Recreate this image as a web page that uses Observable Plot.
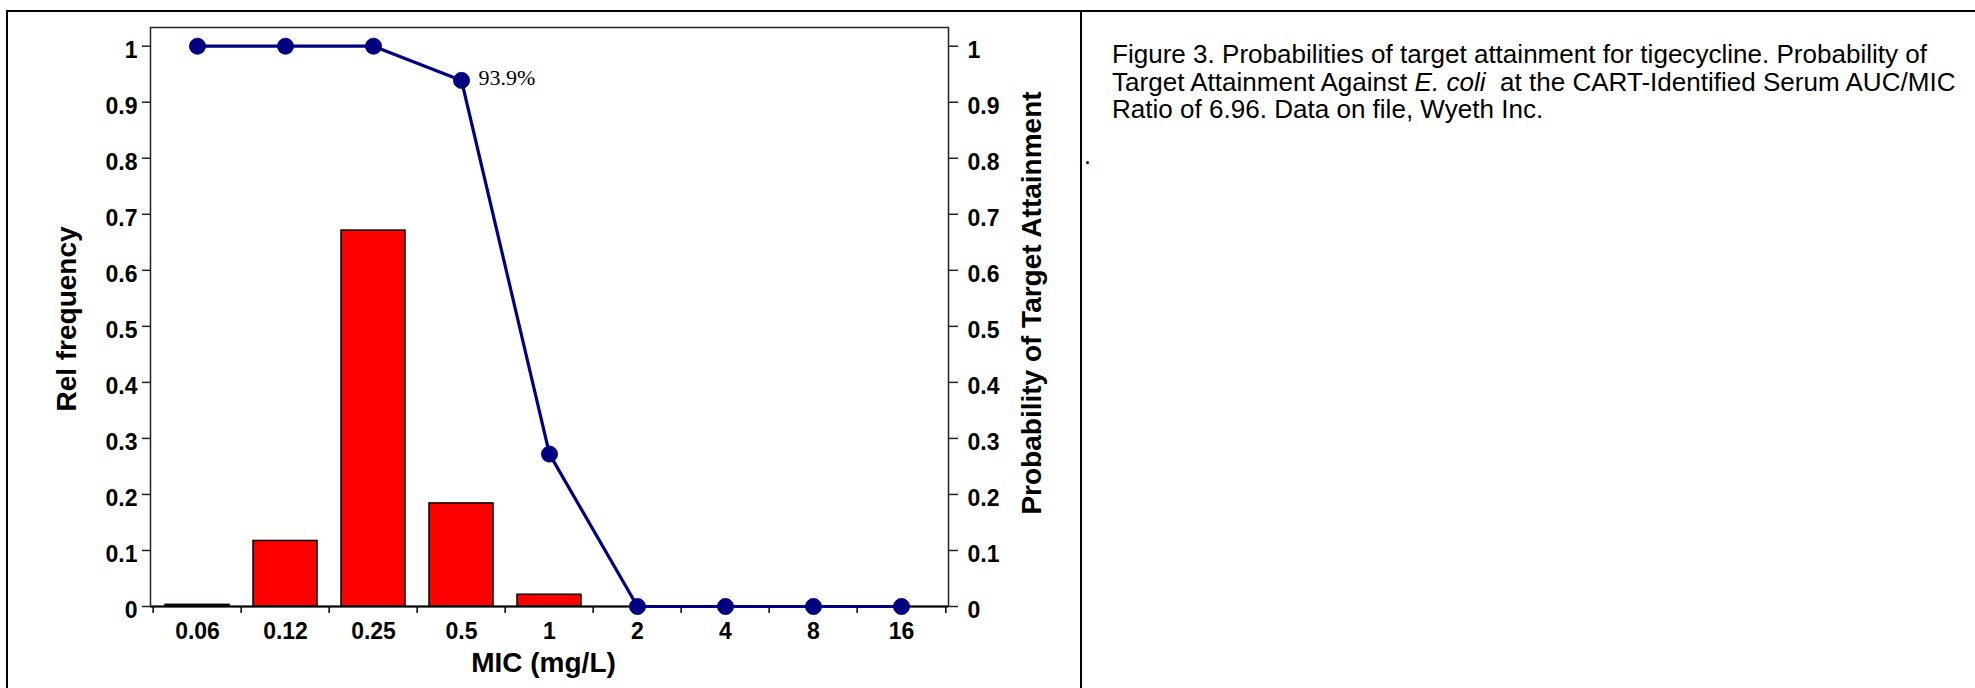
<!DOCTYPE html>
<html>
<head>
<meta charset="utf-8">
<script src="https://cdn.jsdelivr.net/npm/d3@7"></script>
<script src="https://cdn.jsdelivr.net/npm/@observablehq/plot@0.6"></script>
<style>
  html, body { margin: 0; padding: 0; background: #fff; }
  body { width: 1975px; height: 688px; position: relative; overflow: hidden; }
  .rule { position: absolute; background: #000; }
  #chart { position: absolute; left: 0; top: 0; }
  #caption {
    position: absolute; left: 1112px; top: 41px;
    font-family: "Liberation Sans", Arial, sans-serif;
    font-size: 25px; line-height: 27.5px; color: #000; white-space: nowrap;
    transform-origin: 0 0;
  }
  #caption div { white-space: nowrap; line-height: 27.5px; height: 27.5px; }
  #dot { position: absolute; left: 1084px; top: 143px; font-family: "Liberation Sans", Arial, sans-serif; font-size: 25px; line-height: 25.5px; }
</style>
</head>
<body>
<div class="rule" style="left:6px; top:10px; width:1969px; height:2px;"></div>
<div class="rule" style="left:6px; top:10px; width:2px; height:678px;"></div>
<div class="rule" style="left:1080px; top:10px; width:2px; height:678px;"></div>
<div id="chart"></div>
<div id="caption">
  <div id="cap1">Figure 3. Probabilities of target attainment for tigecycline. Probability of</div>
  <div>Target Attainment Against <i>E. coli</i>&nbsp; at the CART-Identified Serum AUC/MIC</div>
  <div>Ratio of 6.96. Data on file, Wyeth Inc.</div>
</div>
<div id="dot">.</div>
<script>
// ---- data ----
const mic = ["0.06", "0.12", "0.25", "0.5", "1", "2", "4", "8", "16"];
const relFrequency = [0.003, 0.117, 0.671, 0.184, 0.021, 0, 0, 0, 0];
const targetAttainment = [1, 1, 1, 0.939, 0.272, 0, 0, 0, 0];
const yTicks = [0, 0.1, 0.2, 0.3, 0.4, 0.5, 0.6, 0.7, 0.8, 0.9, 1];
const yTickLabels = ["0", "0.1", "0.2", "0.3", "0.4", "0.5", "0.6", "0.7", "0.8", "0.9", "1"];
const annotationMic = ["0.5"];
const annotationText = ["93.9%"];
const xTitle = "MIC (mg/L)";
const yLeftTitle = "Rel frequency";
const yRightTitle = "Probability of Target Attainment";

// ---- tables built from the arrays ----
const bars = mic.map((m, i) => ({mic: m, freq: relFrequency[i]})).filter(d => d.freq > 0);
const pts = mic.map((m, i) => ({mic: m, pta: targetAttainment[i]}));
const notes = annotationMic.map((m, i) => ({mic: m, pta: targetAttainment[mic.indexOf(m)], text: annotationText[i]}));
const labelOf = new Map(yTicks.map((t, i) => [t, yTickLabels[i]]));

const W = 1075, H = 688;
const plotLeft = 150, plotRight = 948, plotTop = 27, plotBottom = 606;
const bw = (plotRight - plotLeft) / mic.length;
const navy = "#000080";
const tickFont = {fontSize: 23, fontWeight: "bold", fill: "#000"};
const titleFont = {fontSize: 28, fontWeight: "bold", fill: "#000", textAnchor: "middle", lineAnchor: "middle"};

const chart = Plot.plot({
  width: W, height: H,
  marginLeft: plotLeft, marginRight: W - plotRight, marginTop: plotTop, marginBottom: H - plotBottom,
  style: {fontFamily: "'Liberation Sans', Arial, sans-serif", background: "transparent", overflow: "visible"},
  x: {type: "band", domain: mic, padding: 0, axis: null},
  y: {domain: [0, 1.0334], axis: null},
  marks: [
    Plot.frame({stroke: "#222", strokeWidth: 1.5}),
    Plot.barY(bars, {x: "mic", y: "freq", fill: "#ff0000", stroke: "#000", strokeWidth: 1.5, insetLeft: 12, insetRight: 12}),
    Plot.ruleY([0], {stroke: "#000", strokeWidth: 2}),
    Plot.axisY({anchor: "left", label: null, ticks: yTicks, tickSize: 8, tickFormat: () => "", stroke: "#222", strokeWidth: 1.5}),
    Plot.axisY({anchor: "left", label: null, ticks: yTicks, tickSize: 0, tickPadding: 13, dy: 4, tickFormat: d => labelOf.get(d), ...tickFont}),
    Plot.axisY({anchor: "right", label: null, ticks: yTicks, tickSize: 9, tickFormat: () => "", stroke: "#222", strokeWidth: 1.5}),
    Plot.axisY({anchor: "right", label: null, ticks: yTicks, tickSize: 0, tickPadding: 19, dy: 4, tickFormat: d => labelOf.get(d), ...tickFont}),
    Plot.axisX({anchor: "bottom", label: null, tickSize: 0, tickPadding: 16, ...tickFont}),
    Plot.axisX({anchor: "bottom", label: null, tickSize: 7, tickFormat: () => "", dx: -bw / 2, stroke: "#000", strokeWidth: 1.5}),
    Plot.axisX({anchor: "bottom", label: null, ticks: [mic[mic.length - 1]], tickSize: 7, tickFormat: () => "", dx: bw / 2, stroke: "#000", strokeWidth: 1.5}),
    Plot.line(pts, {x: "mic", y: "pta", stroke: navy, strokeWidth: 3.2}),
    Plot.dot(pts, {x: "mic", y: "pta", r: 8, fill: navy, stroke: navy, strokeWidth: 1}),
    Plot.text(notes, {x: "mic", y: "pta", text: "text", dx: 17, dy: -2, textAnchor: "start",
      fontFamily: "'Liberation Serif', 'Times New Roman', serif", fontSize: 22, fill: "#000"}),
    Plot.text([yLeftTitle], {text: d => d, frameAnchor: "left", rotate: -90, dx: -83, dy: 2, ...titleFont}),
    Plot.text([yRightTitle], {text: d => d, frameAnchor: "right", rotate: -90, dx: 84, dy: -14, ...titleFont}),
    Plot.text([xTitle], {text: d => d, frameAnchor: "bottom", dx: -6, dy: 57, ...titleFont})
  ]
});
document.getElementById("chart").appendChild(chart);

// narrow the caption like the reference's condensed face
function fitCaption() {
  const cap = document.getElementById("caption");
  const l1 = document.getElementById("cap1");
  cap.style.transform = "none";
  const r = document.createRange();
  r.selectNodeContents(l1);
  const w = r.getBoundingClientRect().width;
  const target = 815;
  if (w > 0) cap.style.transform = `scaleX(${target / w})`;
}
fitCaption();
if (document.fonts && document.fonts.ready) document.fonts.ready.then(fitCaption);
</script>
</body>
</html>
